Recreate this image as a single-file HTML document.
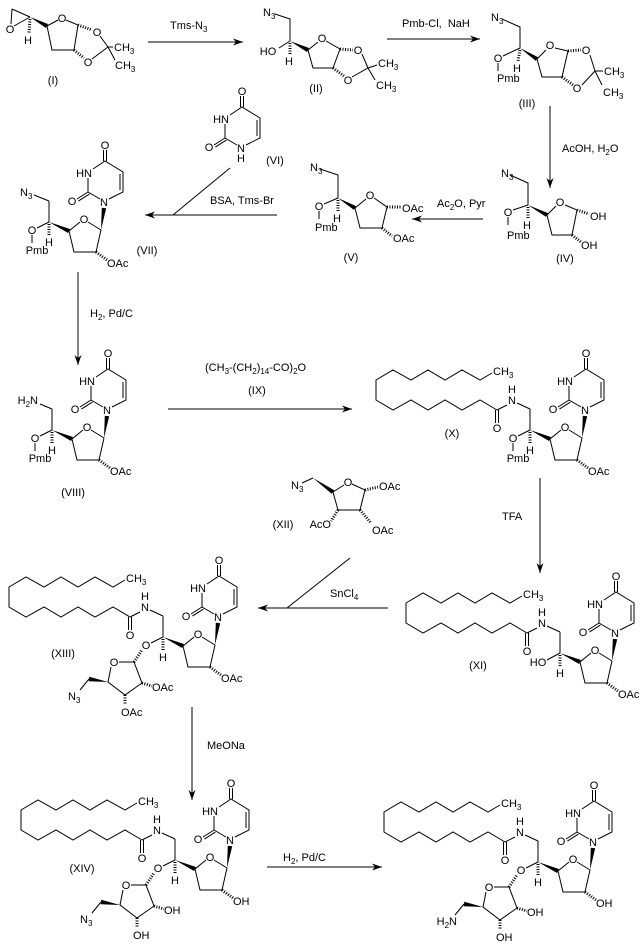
<!DOCTYPE html>
<html><head><meta charset="utf-8"><style>
html,body{margin:0;padding:0;background:#fff;}
svg{display:block;}
path{fill:none;stroke:#000;stroke-width:1;}
polygon{fill:#000;stroke:none;}
.h{stroke-width:3;stroke-dasharray:1 1.5;}
.ar{fill:none;stroke:#000;stroke-width:1;marker-end:url(#a);}
.m{fill:#000;stroke:none;}
text{font-family:"Liberation Sans",sans-serif;font-size:11px;fill:#000;stroke:none;}
.s{font-size:8px;}
</style></head><body>
<svg width="644" height="949" viewBox="0 0 644 949" xmlns="http://www.w3.org/2000/svg">
<defs>
<marker id="a" viewBox="0 0 10 8" refX="10" refY="4" markerWidth="10" markerHeight="8" orient="auto" markerUnits="userSpaceOnUse"><path class="m" d="M0,0.5L10,4L0,7.5L3,4Z"/></marker>
</defs>

<!-- ===== Arrows ===== -->
<path class="ar" d="M148,42L243,42"/>
<text x="170" y="29">Tms-N<tspan class="s" dy="3">3</tspan></text>
<path class="ar" d="M387,39L480,39"/>
<text x="402" y="27">Pmb-Cl,&#160; NaH</text>
<path class="ar" d="M550,106L550,188"/>
<text x="562" y="152">AcOH, H<tspan class="s" dy="3">2</tspan><tspan dy="-3">O</tspan></text>
<path class="ar" d="M483,219L412,219"/>
<text x="437" y="207">Ac<tspan class="s" dy="3">2</tspan><tspan dy="-3">O, Pyr</tspan></text>
<path class="ar" d="M277,215L145,215"/>
<path d="M230,168L173,215"/>
<text x="210" y="204">BSA, Tms-Br</text>
<path class="ar" d="M78,272L78,365"/>
<text x="90" y="317">H<tspan class="s" dy="3">2</tspan><tspan dy="-3">, Pd/C</tspan></text>
<path class="ar" d="M168,409L352,409"/>
<text x="205" y="371">(CH<tspan class="s" dy="3">3</tspan><tspan dy="-3">-(CH</tspan><tspan class="s" dy="3">2</tspan><tspan dy="-3">)</tspan><tspan class="s" dy="3">14</tspan><tspan dy="-3">-CO)</tspan><tspan class="s" dy="3">2</tspan><tspan dy="-3">O</tspan></text>
<text x="257" y="394" text-anchor="middle">(IX)</text>
<path class="ar" d="M540,478L540,573"/>
<text x="502" y="520">TFA</text>
<path class="ar" d="M388,608L258,608"/>
<path d="M350,558L287,608"/>
<text x="330" y="597">SnCl<tspan class="s" dy="3">4</tspan></text>
<path class="ar" d="M192,707L192,800"/>
<text x="207" y="749">MeONa</text>
<path class="ar" d="M267,867L382,867"/>
<text x="283" y="861">H<tspan class="s" dy="3">2</tspan><tspan dy="-3">, Pd/C</tspan></text>

<!-- ===== (I) ===== -->
<path d="M12,9L30,17M12,9L11,24M14,26L30,17M47,26L58,20M66,20L78,25L74,50L52,50L47,26M100,36L108,47M92,59L108,47L113,47M108,47L115,60"/>
<polygon points="30,17 48,24 46,28"/>
<path class="h" d="M30,19L29,33M78,25L92,30M74,50L84,58"/>
<text x="10" y="33" text-anchor="middle">O</text>
<text x="28" y="44" text-anchor="middle">H</text>
<text x="62" y="22" text-anchor="middle">O</text>
<text x="97" y="36" text-anchor="middle">O</text>
<text x="88" y="66" text-anchor="middle">O</text>
<text x="114" y="51">CH<tspan class="s" dy="3">3</tspan></text>
<text x="115" y="69">CH<tspan class="s" dy="3">3</tspan></text>
<text x="53" y="84" text-anchor="middle">(I)</text>

<!-- ===== (II) ===== -->
<path d="M275,14L290,19L290,41M290,41L279,48M308,50L318,42M326,41L340,49L333,68L313,68L308,50M362,54L368,68M352,77L368,68L377,65M368,68L375,80"/>
<polygon points="290,41 307,52 309,48"/>
<path class="h" d="M290,43L290,54M340,49L353,50M333,68L344,76"/>
<text x="263" y="16">N<tspan class="s" dy="3">3</tspan></text>
<text x="268" y="55" text-anchor="middle">HO</text>
<text x="289" y="65" text-anchor="middle">H</text>
<text x="322" y="42" text-anchor="middle">O</text>
<text x="358" y="54" text-anchor="middle">O</text>
<text x="348" y="84" text-anchor="middle">O</text>
<text x="378" y="67">CH<tspan class="s" dy="3">3</tspan></text>
<text x="376" y="89">CH<tspan class="s" dy="3">3</tspan></text>
<text x="316" y="92" text-anchor="middle">(II)</text>

<!-- ===== (III) ===== -->
<path d="M502,19L520,27L520,48M520,48L503,56M498,63L498,71M537,59L546,50M555,48L568,51L562,77L542,77L537,59M590,55L595,71M582,85L595,71L603,71M595,71L602,85"/>
<polygon points="520,48 535.8,60.9 538.2,57.2"/>
<path class="h" d="M520,50L518,61M568,51L581,50M562,77L573,85"/>
<text x="491" y="21">N<tspan class="s" dy="3">3</tspan></text>
<text x="498" y="62" text-anchor="middle">O</text>
<text x="497" y="82">Pmb</text>
<text x="517" y="72" text-anchor="middle">H</text>
<text x="550" y="49" text-anchor="middle">O</text>
<text x="586" y="54" text-anchor="middle">O</text>
<text x="577" y="92" text-anchor="middle">O</text>
<text x="604" y="75">CH<tspan class="s" dy="3">3</tspan></text>
<text x="603" y="96">CH<tspan class="s" dy="3">3</tspan></text>
<text x="527" y="107" text-anchor="middle">(III)</text>

<!-- ===== (IV) ===== -->
<path d="M510,175L528,183L528,205M528,205L513,210M508,217L508,225M547,215L556,206M565,205L577,210L572,235L552,235L547,215"/>
<polygon points="528,205 546,216.9 548,213.1"/>
<path class="h" d="M528,207L528,218M577,210L589,214M572,235L581,242"/>
<text x="501" y="177">N<tspan class="s" dy="3">3</tspan></text>
<text x="508" y="216" text-anchor="middle">O</text>
<text x="507" y="239">Pmb</text>
<text x="527" y="229" text-anchor="middle">H</text>
<text x="560" y="206" text-anchor="middle">O</text>
<text x="590" y="220">OH</text>
<text x="581" y="249">OH</text>
<text x="565" y="262" text-anchor="middle">(IV)</text>

<!-- ===== (V) ===== -->
<path d="M320,169L338,175L338,198M338,198L324,204M319,211L319,219M355,208L366,199M374,198L387,207L382,228L360,228L355,208"/>
<polygon points="338,198 353.9,209.9 356.1,206.1"/>
<path class="h" d="M338,200L338,211M387,207L401,207M382,228L392,236"/>
<text x="310" y="171">N<tspan class="s" dy="3">3</tspan></text>
<text x="319" y="210" text-anchor="middle">O</text>
<text x="315" y="231">Pmb</text>
<text x="337" y="222" text-anchor="middle">H</text>
<text x="370" y="199" text-anchor="middle">O</text>
<text x="402" y="212">OAc</text>
<text x="393" y="242">OAc</text>
<text x="351" y="261" text-anchor="middle">(V)</text>

<!-- ===== (VI) uracil ===== -->
<g transform="translate(241,148)">
<path d="M-4,-3L-16,-10L-16,-24M-11,-33L1,-41L19,-30L19,-10L5,-3M16,-28L16,-12M-0.5,-41L-0.5,-52M2.5,-41L2.5,-52M-16,-10L-27,-3M-14.6,-7.9L-25.6,-0.9"/>
<text x="0" y="4" text-anchor="middle">N</text>
<text x="0" y="14" text-anchor="middle">H</text>
<text x="-20" y="-25" text-anchor="middle">HN</text>
<text x="-32" y="3" text-anchor="middle">O</text>
<text x="1" y="-53" text-anchor="middle">O</text>
</g>
<text x="275" y="164" text-anchor="middle">(VI)</text>

<!-- ===== (VII) ===== -->
<g transform="translate(104,202)">
<path d="M-4,-3L-16,-10L-16,-24M-11,-33L1,-41L19,-30L19,-10L5,-3M16,-28L16,-12M-0.5,-41L-0.5,-52M2.5,-41L2.5,-52M-16,-10L-27,-3M-14.6,-7.9L-25.6,-0.9"/>
<text x="0" y="4" text-anchor="middle">N</text>
<text x="-20" y="-25" text-anchor="middle">HN</text>
<text x="-32" y="3" text-anchor="middle">O</text>
<text x="1" y="-53" text-anchor="middle">O</text>
<path d="M-3,28L-16,20M-24,20L-35,29L-30,50L-8,50L-3,28M-55,20L-55,-1"/>
<polygon points="-3,28 2.2,6.3 -2.2,5.7"/>
<polygon points="-55,20 -35.9,31 -34.1,27"/>
<path class="h" d="M-55,22L-55,33M-8,50L3,58"/>
<text x="-20" y="21" text-anchor="middle">O</text>
<text x="-55" y="44" text-anchor="middle">H</text>
<text x="3" y="65">OAc</text>
<path d="M-55,20L-67,26M-72,33L-72,41M-55,-1L-70,-7"/>
<text x="-72" y="32" text-anchor="middle">O</text>
<text x="-67" y="52" text-anchor="middle">Pmb</text>
<text x="-84" y="-6">N<tspan class="s" dy="3">3</tspan></text>
</g>
<text x="147" y="254" text-anchor="middle">(VII)</text>

<!-- ===== (VIII) ===== -->
<g transform="translate(107,410)">
<path d="M-4,-3L-16,-10L-16,-24M-11,-33L1,-41L19,-30L19,-10L5,-3M16,-28L16,-12M-0.5,-41L-0.5,-52M2.5,-41L2.5,-52M-16,-10L-27,-3M-14.6,-7.9L-25.6,-0.9"/>
<text x="0" y="4" text-anchor="middle">N</text>
<text x="-20" y="-25" text-anchor="middle">HN</text>
<text x="-32" y="3" text-anchor="middle">O</text>
<text x="1" y="-53" text-anchor="middle">O</text>
<path d="M-3,28L-16,20M-24,20L-35,29L-30,50L-8,50L-3,28M-55,20L-55,-1"/>
<polygon points="-3,28 2.2,6.3 -2.2,5.7"/>
<polygon points="-55,20 -35.9,31 -34.1,27"/>
<path class="h" d="M-55,22L-55,33M-8,50L3,58"/>
<text x="-20" y="21" text-anchor="middle">O</text>
<text x="-55" y="44" text-anchor="middle">H</text>
<text x="3" y="65">OAc</text>
<path d="M-55,20L-67,26M-72,33L-72,41M-55,-1L-67,-6"/>
<text x="-72" y="32" text-anchor="middle">O</text>
<text x="-67" y="52" text-anchor="middle">Pmb</text>
<text x="-69" y="-6" text-anchor="end">H<tspan class="s" dy="3">2</tspan><tspan dy="-3">N</tspan></text>
</g>
<text x="73" y="496" text-anchor="middle">(VIII)</text>

<!-- ===== (X) ===== -->
<g transform="translate(585,410)">
<path d="M-4,-3L-16,-10L-16,-24M-11,-33L1,-41L19,-30L19,-10L5,-3M16,-28L16,-12M-0.5,-41L-0.5,-52M2.5,-41L2.5,-52M-16,-10L-27,-3M-14.6,-7.9L-25.6,-0.9"/>
<text x="0" y="4" text-anchor="middle">N</text>
<text x="-20" y="-25" text-anchor="middle">HN</text>
<text x="-32" y="3" text-anchor="middle">O</text>
<text x="1" y="-53" text-anchor="middle">O</text>
<path d="M-3,28L-16,20M-24,20L-35,29L-30,50L-8,50L-3,28M-55,20L-55,-1"/>
<polygon points="-3,28 2.2,6.3 -2.2,5.7"/>
<polygon points="-55,20 -35.9,31 -34.1,27"/>
<path class="h" d="M-55,22L-55,33M-8,50L3,58"/>
<text x="-20" y="21" text-anchor="middle">O</text>
<text x="-55" y="44" text-anchor="middle">H</text>
<text x="3" y="65">OAc</text>
<path d="M-55,20L-67,26M-72,33L-72,41"/>
<text x="-72" y="32" text-anchor="middle">O</text>
<text x="-67" y="52" text-anchor="middle">Pmb</text>
<path d="M-55,-1L-68,-7M-78,-5L-88,0M-89.5,0L-89.5,13M-86.5,0L-86.5,13M-88,0L-105,-10L-123,0L-140,-10L-157,0L-174,-10L-192,0L-209,-10L-209,-30L-192,-40L-174,-30L-157,-40L-140,-30L-123,-40L-105,-30L-93,-37"/>
<text x="-73" y="-6" text-anchor="middle">N</text>
<text x="-73" y="-17" text-anchor="middle">H</text>
<text x="-88" y="22" text-anchor="middle">O</text>
<text x="-92" y="-35">CH<tspan class="s" dy="3">3</tspan></text>
</g>
<text x="452" y="437" text-anchor="middle">(X)</text>

<!-- ===== (XII) ===== -->
<path d="M302,483L313,478M333,492L344,485M352,484L365,490L360,510L338,510L333,492"/>
<polygon points="313,478 331.7,493.8 334.3,490.2"/>
<path class="h" d="M365,490L378,487M360,510L371,523M338,510L331,521"/>
<text x="291" y="489">N<tspan class="s" dy="3">3</tspan></text>
<text x="348" y="486" text-anchor="middle">O</text>
<text x="379" y="490">OAc</text>
<text x="372" y="534">OAc</text>
<text x="331" y="528" text-anchor="end">AcO</text>
<text x="283" y="528" text-anchor="middle">(XII)</text>

<!-- ===== (XI) ===== -->
<g transform="translate(615,633)">
<path d="M-4,-3L-16,-10L-16,-24M-11,-33L1,-41L19,-30L19,-10L5,-3M16,-28L16,-12M-0.5,-41L-0.5,-52M2.5,-41L2.5,-52M-16,-10L-27,-3M-14.6,-7.9L-25.6,-0.9"/>
<text x="0" y="4" text-anchor="middle">N</text>
<text x="-20" y="-25" text-anchor="middle">HN</text>
<text x="-32" y="3" text-anchor="middle">O</text>
<text x="1" y="-53" text-anchor="middle">O</text>
<path d="M-3,28L-16,20M-24,20L-35,29L-30,50L-8,50L-3,28M-55,20L-55,-1"/>
<polygon points="-3,28 2.2,6.3 -2.2,5.7"/>
<polygon points="-55,20 -35.9,31 -34.1,27"/>
<path class="h" d="M-55,22L-55,33M-8,50L3,58"/>
<text x="-20" y="21" text-anchor="middle">O</text>
<text x="-55" y="44" text-anchor="middle">H</text>
<text x="3" y="65">OAc</text>
<path d="M-55,20L-68,27"/>
<text x="-77" y="33" text-anchor="middle">HO</text>
<path d="M-55,-1L-68,-7M-78,-5L-88,0M-89.5,0L-89.5,13M-86.5,0L-86.5,13M-88,0L-105,-10L-123,0L-140,-10L-157,0L-174,-10L-192,0L-209,-10L-209,-30L-192,-40L-174,-30L-157,-40L-140,-30L-123,-40L-105,-30L-93,-37"/>
<text x="-73" y="-6" text-anchor="middle">N</text>
<text x="-73" y="-17" text-anchor="middle">H</text>
<text x="-88" y="22" text-anchor="middle">O</text>
<text x="-92" y="-35">CH<tspan class="s" dy="3">3</tspan></text>
</g>
<text x="478" y="669" text-anchor="middle">(XI)</text>

<!-- ===== (XIII) ===== -->
<g transform="translate(218,617)">
<path d="M-4,-3L-16,-10L-16,-24M-11,-33L1,-41L19,-30L19,-10L5,-3M16,-28L16,-12M-0.5,-41L-0.5,-52M2.5,-41L2.5,-52M-16,-10L-27,-3M-14.6,-7.9L-25.6,-0.9"/>
<text x="0" y="4" text-anchor="middle">N</text>
<text x="-20" y="-25" text-anchor="middle">HN</text>
<text x="-32" y="3" text-anchor="middle">O</text>
<text x="1" y="-53" text-anchor="middle">O</text>
<path d="M-3,28L-16,20M-24,20L-35,29L-30,50L-8,50L-3,28M-55,20L-55,-1"/>
<polygon points="-3,28 2.2,6.3 -2.2,5.7"/>
<polygon points="-55,20 -35.9,31 -34.1,27"/>
<path class="h" d="M-55,22L-55,33M-8,50L3,58"/>
<text x="-20" y="21" text-anchor="middle">O</text>
<text x="-55" y="44" text-anchor="middle">H</text>
<text x="3" y="65">OAc</text>
<path d="M-55,-1L-68,-7M-78,-5L-88,0M-89.5,0L-89.5,13M-86.5,0L-86.5,13M-88,0L-105,-10L-123,0L-140,-10L-157,0L-174,-10L-192,0L-209,-10L-209,-30L-192,-40L-174,-30L-157,-40L-140,-30L-123,-40L-105,-30L-93,-37"/>
<text x="-73" y="-6" text-anchor="middle">N</text>
<text x="-73" y="-17" text-anchor="middle">H</text>
<text x="-88" y="22" text-anchor="middle">O</text>
<text x="-92" y="-35">CH<tspan class="s" dy="3">3</tspan></text>
<path d="M-55,20L-67,26M-84,45L-99,45M-107,50L-110,65L-93,78L-76,66L-84,45M-129,62L-138,73"/>
<polygon points="-110,65 -128.7,59.8 -129.3,64.2"/>
<path class="h" d="M-84,45L-76,33M-76,66L-66,69M-93,78L-93,88"/>
<text x="-72" y="32" text-anchor="middle">O</text>
<text x="-104" y="49" text-anchor="middle">O</text>
<text x="-150" y="83">N<tspan class="s" dy="3">3</tspan></text>
<text x="-66" y="74">OAc</text>
<text x="-97" y="99">OAc</text>
</g>
<text x="63" y="657" text-anchor="middle">(XIII)</text>

<!-- ===== (XIV) ===== -->
<g transform="translate(230,840)">
<path d="M-4,-3L-16,-10L-16,-24M-11,-33L1,-41L19,-30L19,-10L5,-3M16,-28L16,-12M-0.5,-41L-0.5,-52M2.5,-41L2.5,-52M-16,-10L-27,-3M-14.6,-7.9L-25.6,-0.9"/>
<text x="0" y="4" text-anchor="middle">N</text>
<text x="-20" y="-25" text-anchor="middle">HN</text>
<text x="-32" y="3" text-anchor="middle">O</text>
<text x="1" y="-53" text-anchor="middle">O</text>
<path d="M-3,28L-16,20M-24,20L-35,29L-30,50L-8,50L-3,28M-55,20L-55,-1"/>
<polygon points="-3,28 2.2,6.3 -2.2,5.7"/>
<polygon points="-55,20 -35.9,31 -34.1,27"/>
<path class="h" d="M-55,22L-55,33M-8,50L3,58"/>
<text x="-20" y="21" text-anchor="middle">O</text>
<text x="-55" y="44" text-anchor="middle">H</text>
<text x="3" y="65">OH</text>
<path d="M-55,-1L-68,-7M-78,-5L-88,0M-89.5,0L-89.5,13M-86.5,0L-86.5,13M-88,0L-105,-10L-123,0L-140,-10L-157,0L-174,-10L-192,0L-209,-10L-209,-30L-192,-40L-174,-30L-157,-40L-140,-30L-123,-40L-105,-30L-93,-37"/>
<text x="-73" y="-6" text-anchor="middle">N</text>
<text x="-73" y="-17" text-anchor="middle">H</text>
<text x="-88" y="22" text-anchor="middle">O</text>
<text x="-92" y="-35">CH<tspan class="s" dy="3">3</tspan></text>
<path d="M-55,20L-67,26M-84,45L-99,45M-107,50L-110,65L-93,78L-76,66L-84,45M-129,62L-138,73"/>
<polygon points="-110,65 -128.7,59.8 -129.3,64.2"/>
<path class="h" d="M-84,45L-76,33M-76,66L-66,69M-93,78L-93,88"/>
<text x="-72" y="32" text-anchor="middle">O</text>
<text x="-104" y="49" text-anchor="middle">O</text>
<text x="-150" y="83">N<tspan class="s" dy="3">3</tspan></text>
<text x="-66" y="74">OH</text>
<text x="-97" y="99">OH</text>
</g>
<text x="82" y="872" text-anchor="middle">(XIV)</text>

<!-- ===== (XV) ===== -->
<g transform="translate(593,842)">
<path d="M-4,-3L-16,-10L-16,-24M-11,-33L1,-41L19,-30L19,-10L5,-3M16,-28L16,-12M-0.5,-41L-0.5,-52M2.5,-41L2.5,-52M-16,-10L-27,-3M-14.6,-7.9L-25.6,-0.9"/>
<text x="0" y="4" text-anchor="middle">N</text>
<text x="-20" y="-25" text-anchor="middle">HN</text>
<text x="-32" y="3" text-anchor="middle">O</text>
<text x="1" y="-53" text-anchor="middle">O</text>
<path d="M-3,28L-16,20M-24,20L-35,29L-30,50L-8,50L-3,28M-55,20L-55,-1"/>
<polygon points="-3,28 2.2,6.3 -2.2,5.7"/>
<polygon points="-55,20 -35.9,31 -34.1,27"/>
<path class="h" d="M-55,22L-55,33M-8,50L3,58"/>
<text x="-20" y="21" text-anchor="middle">O</text>
<text x="-55" y="44" text-anchor="middle">H</text>
<text x="3" y="65">OH</text>
<path d="M-55,-1L-68,-7M-78,-5L-88,0M-89.5,0L-89.5,13M-86.5,0L-86.5,13M-88,0L-105,-10L-123,0L-140,-10L-157,0L-174,-10L-192,0L-209,-10L-209,-30L-192,-40L-174,-30L-157,-40L-140,-30L-123,-40L-105,-30L-93,-37"/>
<text x="-73" y="-6" text-anchor="middle">N</text>
<text x="-73" y="-17" text-anchor="middle">H</text>
<text x="-88" y="22" text-anchor="middle">O</text>
<text x="-92" y="-35">CH<tspan class="s" dy="3">3</tspan></text>
<path d="M-55,20L-67,26M-84,45L-99,45M-107,50L-110,65L-93,78L-76,66L-84,45M-129,62L-138,73"/>
<polygon points="-110,65 -128.7,59.8 -129.3,64.2"/>
<path class="h" d="M-84,45L-76,33M-76,66L-66,69M-93,78L-93,88"/>
<text x="-72" y="32" text-anchor="middle">O</text>
<text x="-104" y="49" text-anchor="middle">O</text>
<text x="-136" y="83" text-anchor="end">H<tspan class="s" dy="3">2</tspan><tspan dy="-3">N</tspan></text>
<text x="-66" y="74">OH</text>
<text x="-97" y="99">OH</text>
</g>
</svg>
</body></html>
